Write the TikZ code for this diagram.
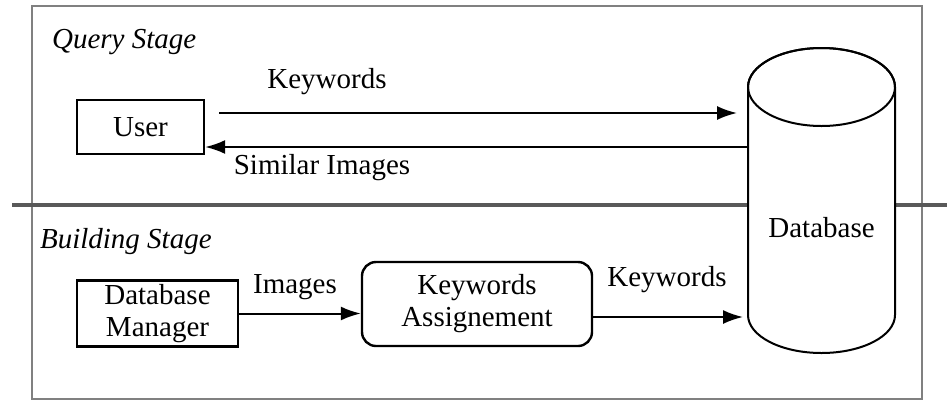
\documentclass[tikz,border=0pt]{standalone}
\usepackage{fontspec}
\setmainfont{Liberation Serif}
\usetikzlibrary{arrows.meta,calc}

\tikzset{
	block/.style={draw, line width=1.2pt, align=center, inner sep=2pt},
	flow/.style={-{Latex[length=10pt,width=7pt]}, line width=1pt},
	stage/.style={anchor=west, font=\fontsize{14.5}{16}\selectfont\itshape}
}

\begin{document}
\begin{tikzpicture}[x=0.5pt,y=-0.5pt,font=\fontsize{14.5}{16}\selectfont]
	\useasboundingbox (0,0) rectangle (947,402);
	\draw[gray, line width=1.2pt] (32,6) rectangle (922,399);
	\draw[gray!70!black, line width=2pt] (12,205) -- (947,205);

	\node[stage] (query) at (45,42) {Query Stage};
	\node[stage] (building) at (33,242) {Building Stage};

	\node[block, minimum width=63.5pt, minimum height=27pt] (user) at (140.5,127) {User};
	\node[block, minimum width=80.5pt, minimum height=31.5pt] (dbm) at (157.5,313.5) {Database\\Manager};
	\node[block, rounded corners=7pt, minimum width=115pt, minimum height=42pt] (kwa) at (477,304) {Keywords\\Assignement};
	\node[minimum width=73.5pt, minimum height=152.5pt, inner sep=0pt, outer sep=0pt] (db) at (821.5,200.5) {};

	\filldraw[fill=white, line width=1pt] (748,87) -- (748,315)
		arc[start angle=180, end angle=0, x radius=73.5, y radius=38] -- (895,87)
		arc[start angle=0, end angle=-180, x radius=73.5, y radius=39] -- cycle;
	\draw[line width=1pt] (821.5,87) ellipse[x radius=73.5, y radius=39];
	\node (dblabel) at (821.5,228) {Database};

	\draw[flow] ($(user.east)+(14,-14)$) -- ($(user.east -| db.west)+(-11,-14)$);
	\draw[flow] ($(user.east -| db.west)+(0,20)$) -- ($(user.east)+(0,20)$);
	\draw[flow] (dbm.east) -- (dbm.east -| kwa.west);
	\draw[flow] ($(kwa.east)+(0,13)$) -- ($(kwa.east -| db.west)+(-5,13)$);

	\node (kwtop) at (327,82) {Keywords};
	\node (similar) at (322,168) {Similar Images};
	\node (images) at (295,287) {Images};
	\node (kwlow) at (667,280) {Keywords};
\end{tikzpicture}
\end{document}
